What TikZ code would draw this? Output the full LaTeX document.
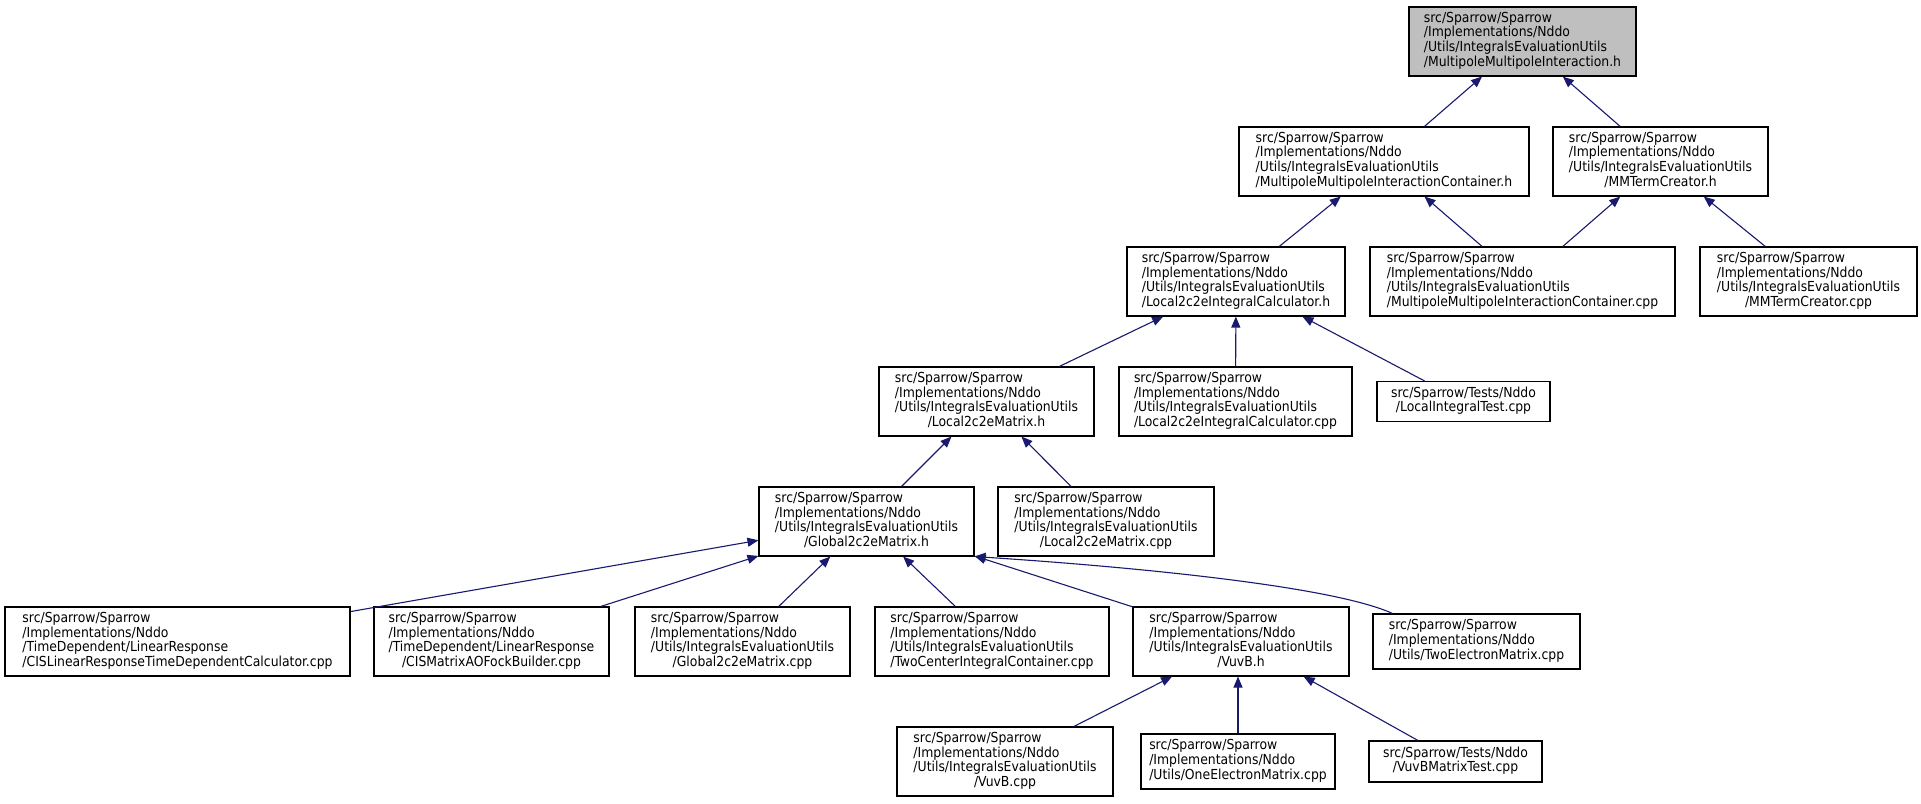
\documentclass[tikz,border=0pt]{standalone}
\usepackage{fontspec}
\setmainfont{DejaVu Sans Condensed}
\usetikzlibrary{arrows.meta}
\definecolor{navy}{RGB}{25,25,112}
\definecolor{topgray}{RGB}{191,191,191}
\newcommand{\fourl}[4]{\begin{tabular}{@{}l@{}}#1\\#2\\#3\\\multicolumn{1}{@{}c@{}}{#4}\end{tabular}}
\newcommand{\threel}[3]{\begin{tabular}{@{}l@{}}#1\\#2\\\multicolumn{1}{@{}c@{}}{#3}\end{tabular}}
\newcommand{\twol}[2]{\begin{tabular}{@{}l@{}}#1\\\multicolumn{1}{@{}c@{}}{#2}\end{tabular}}
\begin{document}
\begin{tikzpicture}[x=1pt,y=-1pt,
  box/.style={draw=black, line width=1.1pt, inner sep=0pt, minimum height=69pt, fill=white,
    font=\fontsize{13.8}{14.8}\selectfont},
  edge/.style={draw=navy, line width=1.1pt, -{Triangle[length=11pt,width=9pt]}}]
\useasboundingbox[fill=white] (0,0) rectangle (1921,803);
\node[box, fill=topgray, minimum width=227] (A) at (1522.5,41.5) {\fourl{src/Sparrow/Sparrow}{/Implementations/Nddo}{/Utils/IntegralsEvaluationUtils}{/MultipoleMultipoleInteraction.h}};
\node[box, minimum width=290] (B) at (1384,161.5) {\fourl{src/Sparrow/Sparrow}{/Implementations/Nddo}{/Utils/IntegralsEvaluationUtils}{/MultipoleMultipoleInteractionContainer.h}};
\node[box, minimum width=215] (C) at (1660.5,161.5) {\fourl{src/Sparrow/Sparrow}{/Implementations/Nddo}{/Utils/IntegralsEvaluationUtils}{/MMTermCreator.h}};
\node[box, minimum width=218] (D) at (1236,281.5) {\fourl{src/Sparrow/Sparrow}{/Implementations/Nddo}{/Utils/IntegralsEvaluationUtils}{/Local2c2eIntegralCalculator.h}};
\node[box, minimum width=305] (E) at (1522.5,281.5) {\fourl{src/Sparrow/Sparrow}{/Implementations/Nddo}{/Utils/IntegralsEvaluationUtils}{/MultipoleMultipoleInteractionContainer.cpp}};
\node[box, minimum width=217] (F) at (1808.5,281.5) {\fourl{src/Sparrow/Sparrow}{/Implementations/Nddo}{/Utils/IntegralsEvaluationUtils}{/MMTermCreator.cpp}};
\node[box, minimum width=215] (G) at (986.5,401.5) {\fourl{src/Sparrow/Sparrow}{/Implementations/Nddo}{/Utils/IntegralsEvaluationUtils}{/Local2c2eMatrix.h}};
\node[box, minimum width=233] (H) at (1235.5,401.5) {\fourl{src/Sparrow/Sparrow}{/Implementations/Nddo}{/Utils/IntegralsEvaluationUtils}{/Local2c2eIntegralCalculator.cpp}};
\node[box, minimum width=173, minimum height=40] (I) at (1463.5,401.5) {\twol{src/Sparrow/Tests/Nddo}{/LocalIntegralTest.cpp}};
\node[box, minimum width=215] (J) at (866.5,521.5) {\fourl{src/Sparrow/Sparrow}{/Implementations/Nddo}{/Utils/IntegralsEvaluationUtils}{/Global2c2eMatrix.h}};
\node[box, minimum width=216] (K) at (1106,521.5) {\fourl{src/Sparrow/Sparrow}{/Implementations/Nddo}{/Utils/IntegralsEvaluationUtils}{/Local2c2eMatrix.cpp}};
\node[box, minimum width=345] (L) at (177.5,641.5) {\fourl{src/Sparrow/Sparrow}{/Implementations/Nddo}{/TimeDependent/LinearResponse}{/CISLinearResponseTimeDependentCalculator.cpp}};
\node[box, minimum width=235] (M) at (491.5,641.5) {\fourl{src/Sparrow/Sparrow}{/Implementations/Nddo}{/TimeDependent/LinearResponse}{/CISMatrixAOFockBuilder.cpp}};
\node[box, minimum width=215] (N) at (742.5,641.5) {\fourl{src/Sparrow/Sparrow}{/Implementations/Nddo}{/Utils/IntegralsEvaluationUtils}{/Global2c2eMatrix.cpp}};
\node[box, minimum width=234] (O) at (992,641.5) {\fourl{src/Sparrow/Sparrow}{/Implementations/Nddo}{/Utils/IntegralsEvaluationUtils}{/TwoCenterIntegralContainer.cpp}};
\node[box, minimum width=216] (P) at (1241,641.5) {\fourl{src/Sparrow/Sparrow}{/Implementations/Nddo}{/Utils/IntegralsEvaluationUtils}{/VuvB.h}};
\node[box, minimum width=207, minimum height=55] (Q) at (1476.5,641.5) {\threel{src/Sparrow/Sparrow}{/Implementations/Nddo}{/Utils/TwoElectronMatrix.cpp}};
\node[box, minimum width=216] (R) at (1005,761.5) {\fourl{src/Sparrow/Sparrow}{/Implementations/Nddo}{/Utils/IntegralsEvaluationUtils}{/VuvB.cpp}};
\node[box, minimum width=194, minimum height=55] (S) at (1238,761.5) {\threel{src/Sparrow/Sparrow}{/Implementations/Nddo}{/Utils/OneElectronMatrix.cpp}};
\node[box, minimum width=173, minimum height=41] (T) at (1455.5,761.5) {\twol{src/Sparrow/Tests/Nddo}{/VuvBMatrixTest.cpp}};
\draw[edge] (B) -- (A);
\draw[edge] (C) -- (A);
\draw[edge] (D) -- (B);
\draw[edge] (E) -- (B);
\draw[edge] (E) -- (C);
\draw[edge] (F) -- (C);
\draw[edge] (G) -- (D);
\draw[edge] (H) -- (D);
\draw[edge] (I) -- (D);
\draw[edge] (J) -- (G);
\draw[edge] (K) -- (G);
\draw[edge] (L) -- (J);
\draw[edge] (M) -- (J);
\draw[edge] (N) -- (J);
\draw[edge] (O) -- (J);
\draw[edge] (P) -- (J);
\draw[edge] ([xshift=20pt]Q.north west) .. controls (1330,585) and (1120,566) .. (J.south east);
\draw[edge] (R) -- (P);
\draw[edge] (S.north) -- (P.south -| S.north);
\draw[edge] (T) -- (P);
\end{tikzpicture}
\end{document}
